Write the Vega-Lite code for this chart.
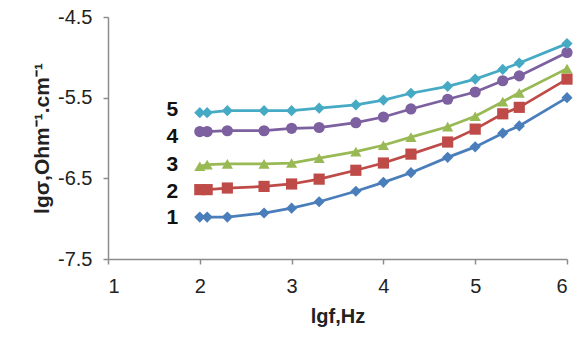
{
  "$schema": "https://vega.github.io/schema/vega-lite/v6.json",
  "width": 459,
  "height": 242,
  "autosize": {"type": "none"},
  "padding": {"left": 108, "top": 17, "right": 16, "bottom": 81},
  "background": "white",
  "config": {
    "view": {"stroke": null},
    "font": "Liberation Sans"
  },
  "datasets": {
    "curves": [
      {"lgf": 2.0, "s": "1", "v": -6.98}, {"lgf": 2.08, "s": "1", "v": -6.98}, {"lgf": 2.3, "s": "1", "v": -6.98}, {"lgf": 2.7, "s": "1", "v": -6.93}, {"lgf": 3.0, "s": "1", "v": -6.87}, {"lgf": 3.3, "s": "1", "v": -6.79}, {"lgf": 3.7, "s": "1", "v": -6.66}, {"lgf": 4.0, "s": "1", "v": -6.55}, {"lgf": 4.3, "s": "1", "v": -6.43}, {"lgf": 4.7, "s": "1", "v": -6.24}, {"lgf": 5.0, "s": "1", "v": -6.11}, {"lgf": 5.3, "s": "1", "v": -5.94}, {"lgf": 5.48, "s": "1", "v": -5.85}, {"lgf": 6.0, "s": "1", "v": -5.5},
      {"lgf": 2.0, "s": "2", "v": -6.64}, {"lgf": 2.08, "s": "2", "v": -6.64}, {"lgf": 2.3, "s": "2", "v": -6.62}, {"lgf": 2.7, "s": "2", "v": -6.6}, {"lgf": 3.0, "s": "2", "v": -6.57}, {"lgf": 3.3, "s": "2", "v": -6.51}, {"lgf": 3.7, "s": "2", "v": -6.4}, {"lgf": 4.0, "s": "2", "v": -6.31}, {"lgf": 4.3, "s": "2", "v": -6.2}, {"lgf": 4.7, "s": "2", "v": -6.05}, {"lgf": 5.0, "s": "2", "v": -5.89}, {"lgf": 5.3, "s": "2", "v": -5.7}, {"lgf": 5.48, "s": "2", "v": -5.62}, {"lgf": 6.0, "s": "2", "v": -5.27},
      {"lgf": 2.0, "s": "3", "v": -6.35}, {"lgf": 2.08, "s": "3", "v": -6.33}, {"lgf": 2.3, "s": "3", "v": -6.32}, {"lgf": 2.7, "s": "3", "v": -6.32}, {"lgf": 3.0, "s": "3", "v": -6.31}, {"lgf": 3.3, "s": "3", "v": -6.25}, {"lgf": 3.7, "s": "3", "v": -6.17}, {"lgf": 4.0, "s": "3", "v": -6.09}, {"lgf": 4.3, "s": "3", "v": -5.99}, {"lgf": 4.7, "s": "3", "v": -5.86}, {"lgf": 5.0, "s": "3", "v": -5.73}, {"lgf": 5.3, "s": "3", "v": -5.55}, {"lgf": 5.48, "s": "3", "v": -5.44}, {"lgf": 6.0, "s": "3", "v": -5.14},
      {"lgf": 2.0, "s": "4", "v": -5.92}, {"lgf": 2.08, "s": "4", "v": -5.92}, {"lgf": 2.3, "s": "4", "v": -5.91}, {"lgf": 2.7, "s": "4", "v": -5.91}, {"lgf": 3.0, "s": "4", "v": -5.88}, {"lgf": 3.3, "s": "4", "v": -5.87}, {"lgf": 3.7, "s": "4", "v": -5.81}, {"lgf": 4.0, "s": "4", "v": -5.74}, {"lgf": 4.3, "s": "4", "v": -5.64}, {"lgf": 4.7, "s": "4", "v": -5.52}, {"lgf": 5.0, "s": "4", "v": -5.43}, {"lgf": 5.3, "s": "4", "v": -5.29}, {"lgf": 5.48, "s": "4", "v": -5.23}, {"lgf": 6.0, "s": "4", "v": -4.94},
      {"lgf": 2.0, "s": "5", "v": -5.686}, {"lgf": 2.08, "s": "5", "v": -5.686}, {"lgf": 2.3, "s": "5", "v": -5.661}, {"lgf": 2.7, "s": "5", "v": -5.661}, {"lgf": 3.0, "s": "5", "v": -5.661}, {"lgf": 3.3, "s": "5", "v": -5.63}, {"lgf": 3.7, "s": "5", "v": -5.59}, {"lgf": 4.0, "s": "5", "v": -5.53}, {"lgf": 4.3, "s": "5", "v": -5.445}, {"lgf": 4.7, "s": "5", "v": -5.36}, {"lgf": 5.0, "s": "5", "v": -5.27}, {"lgf": 5.3, "s": "5", "v": -5.15}, {"lgf": 5.48, "s": "5", "v": -5.07}, {"lgf": 6.0, "s": "5", "v": -4.83}
    ],
    "labels": [
      {"lgf": 1.7, "v": -5.652, "t": "5"},
      {"lgf": 1.7, "v": -5.993, "t": "4"},
      {"lgf": 1.7, "v": -6.34, "t": "3"},
      {"lgf": 1.7, "v": -6.675, "t": "2"},
      {"lgf": 1.7, "v": -6.997, "t": "1"}
    ]
  },
  "layer": [
    {
      "data": {"name": "curves"},
      "mark": {"type": "line", "strokeWidth": 2.75},
      "encoding": {
        "x": {
          "field": "lgf", "type": "quantitative",
          "scale": {"domain": [1, 6], "nice": false, "zero": false},
          "axis": {
            "values": [1, 2, 3, 4, 5, 6], "grid": false, "format": "d",
            "title": "lgf,Hz", "titleFontSize": 20, "titleFontWeight": "bold", "titleColor": "#222", "titlePadding": 10,
            "labelFontSize": 20, "labelColor": "#222", "labelPadding": 12,
            "domainColor": "#8c8c8c", "domainWidth": 1.5, "tickColor": "#8c8c8c", "tickWidth": 1.5, "tickSize": 5
          }
        },
        "y": {
          "field": "v", "type": "quantitative",
          "scale": {"domain": [-7.5, -4.5], "nice": false, "zero": false},
          "axis": {
            "values": [-7.5, -6.5, -5.5, -4.5], "grid": false, "format": ".1f",
            "labelExpr": "replace(datum.label, '−', '-')",
            "title": "lgσ,Ohm⁻¹.cm⁻¹", "titleFontSize": 21, "titleFontWeight": "bold", "titleColor": "#222", "titlePadding": 5,
            "labelFontSize": 20, "labelColor": "#222", "labelPadding": 11,
            "domainColor": "#8c8c8c", "domainWidth": 1.5, "tickColor": "#8c8c8c", "tickWidth": 1.5, "tickSize": 5
          }
        },
        "color": {
          "field": "s", "type": "nominal",
          "scale": {"domain": ["1", "2", "3", "4", "5"], "range": ["#4A7EBB", "#BE4B48", "#98B954", "#7D60A0", "#46AAC5"]},
          "legend": null
        },
        "detail": {"field": "s"}
      }
    },
    {
      "data": {"name": "curves"},
      "mark": {"type": "point", "filled": true, "opacity": 1, "size": 125},
      "encoding": {
        "x": {"field": "lgf", "type": "quantitative"},
        "y": {"field": "v", "type": "quantitative"},
        "color": {"field": "s", "type": "nominal", "legend": null},
        "shape": {
          "field": "s", "type": "nominal",
          "scale": {"domain": ["1", "2", "3", "4", "5"], "range": ["diamond", "square", "triangle-up", "circle", "diamond"]},
          "legend": null
        }
      }
    },
    {
      "data": {"name": "labels"},
      "mark": {"type": "text", "fontSize": 21, "fontWeight": "bold", "color": "#111", "align": "center", "baseline": "middle"},
      "encoding": {
        "x": {"field": "lgf", "type": "quantitative"},
        "y": {"field": "v", "type": "quantitative"},
        "text": {"field": "t"}
      }
    }
  ]
}
